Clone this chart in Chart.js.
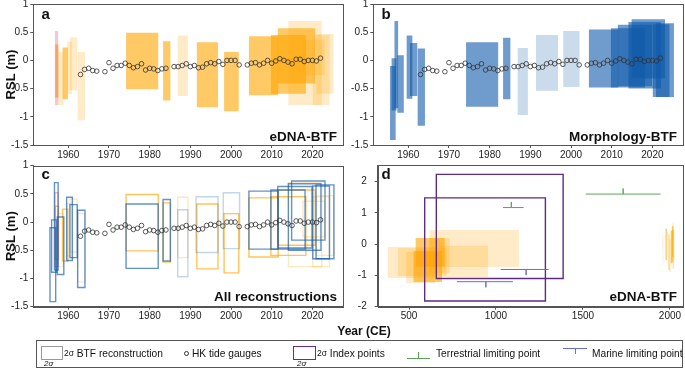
<!DOCTYPE html>
<html>
<head>
<meta charset="utf-8">
<script src="https://cdn.jsdelivr.net/npm/chart.js@4.4.0/dist/chart.umd.min.js"></script>
<style>
  body { margin: 0; width: 685px; height: 370px; position: relative; overflow: hidden; background: #fff;
         font-family: "Liberation Sans", Arial, Helvetica, sans-serif; color: #111; }
  canvas { position: absolute; }
  .tag { position: absolute; font-weight: bold; line-height: 1; white-space: nowrap; }
  .letter { font-size: 15px; }
  .corner { font-size: 13.5px; text-align: right; }
  #legend { position: absolute; left: 36px; top: 340px; width: 647px; height: 28px; border: 1px solid #555; box-sizing: border-box; }
  .lg { position: absolute; font-size: 10.2px; line-height: 1; white-space: nowrap; top: 8px; }
  .lg .s { font-size: 8.5px; position: relative; top: -1px; }
  .sig { position: absolute; font-size: 8px; font-style: italic; line-height: 1; white-space: nowrap; }
  .sym { position: absolute; box-sizing: border-box; }
</style>
</head>
<body>
<canvas id="ca" width="345" height="163" style="left:0;top:0"></canvas>
<canvas id="cb" width="345" height="163" style="left:340px;top:0"></canvas>
<canvas id="cc" width="345" height="167" style="left:0;top:158px"></canvas>
<canvas id="cd" width="345" height="167" style="left:340px;top:158px"></canvas>

<div class="tag letter" style="left:41.5px;top:5.5px">a</div>
<div class="tag letter" style="left:381.5px;top:5.5px">b</div>
<div class="tag letter" style="left:41.5px;top:165.5px">c</div>
<div class="tag letter" style="left:381.5px;top:166px">d</div>
<div class="tag corner" style="right:348px;top:130.3px">eDNA-BTF</div>
<div class="tag corner" style="right:8px;top:130.3px">Morphology-BTF</div>
<div class="tag corner" style="right:348px;top:290.3px">All reconstructions</div>
<div class="tag corner" style="right:8px;top:290.3px">eDNA-BTF</div>
<div class="tag" style="font-size:12px;left:364px;top:324.5px;transform:translateX(-50%)">Year (CE)</div>

<div id="legend">
  <div class="sym" style="left:3.5px;top:5px;width:22px;height:14px;border:1px solid #999;"></div>
  <div class="sig" style="left:7px;top:19px">2σ</div>
  <div class="lg" style="left:27px"><span class="s">2σ</span> BTF reconstruction</div>

  <div class="sym" style="left:146.5px;top:9.5px;width:5px;height:5px;border:0.8px solid #333;border-radius:50%"></div>
  <div class="lg" style="left:155px">HK tide gauges</div>

  <div class="sym" style="left:256px;top:5px;width:23px;height:14px;border:1.3px solid #6a2c8c;"></div>
  <div class="sig" style="left:260px;top:19px">2σ</div>
  <div class="lg" style="left:280px"><span class="s">2σ</span> Index points</div>

  <div class="sym" style="left:370px;top:17px;width:23px;height:1px;background:#5aa55a"></div>
  <div class="sym" style="left:381px;top:11px;width:1px;height:6px;background:#5aa55a"></div>
  <div class="lg" style="left:399px">Terrestrial limiting point</div>

  <div class="sym" style="left:526px;top:7px;width:24px;height:1.2px;background:#6b6bd6"></div>
  <div class="sym" style="left:538px;top:7px;width:1.2px;height:6px;background:#6b6bd6"></div>
  <div class="lg" style="left:555px">Marine limiting point</div>
</div>

<script>
// HK tide gauge annual RSL (m)
const tideYears = [1963,1964,1965,1966,1967,1969,1970,1971,1972,1973,1974,1975,1976,1977,1978,1979,1980,1981,1982,1983,1984,
  1986,1987,1988,1989,1990,1991,1992,1993,1994,1995,1996,1997,1998,1999,2000,2001,2002,
  2004,2005,2006,2007,2008,2009,2010,2011,2012,2013,2014,2015,2016,2017,2018,2019,2020,2021,2022];
const tideRSL = [-0.25,-0.16,-0.14,-0.18,-0.19,-0.20,-0.04,-0.14,-0.09,-0.09,-0.05,-0.09,-0.13,-0.11,-0.06,-0.17,-0.14,-0.15,-0.18,-0.15,-0.14,
  -0.11,-0.11,-0.09,-0.06,-0.11,-0.09,-0.13,-0.12,-0.06,-0.04,-0.06,-0.02,-0.07,0.00,0.00,0.00,-0.08,
  -0.08,-0.05,-0.04,-0.08,-0.05,0.00,-0.05,-0.01,0.03,0.00,-0.03,-0.06,0.02,0.02,-0.02,0.00,0.00,-0.01,0.04];

// BTF reconstructions: [year from, year to, RSL top, RSL bottom, group]
const ednaBoxes = [
  [1956.7,1957.5,0.52,-0.79,'pink'],
  [1956.8,1957.6,0.28,-0.66,'strong'],
  [1957.5,1958.8,0.15,-0.79,'faint'],
  [1958.6,1959.9,0.23,-0.69,'strong'],
  [1959.7,1960.9,0.33,-0.60,'faint'],
  [1960.4,1962.2,0.41,-0.53,'faint'],
  [1962.3,1964.1,0.15,-1.06,'faint'],
  [1974.2,1982.1,0.49,-0.51,'strong'],
  [1983.3,1985.1,0.34,-0.71,'strong'],
  [1986.9,1989.4,0.44,-0.63,'faint'],
  [1991.6,1996.8,0.32,-0.83,'strong'],
  [1998.3,2001.9,0.15,-0.90,'strong'],
  [2004.4,2011.6,0.43,-0.62,'strong'],
  [2009.8,2018.4,0.45,-0.59,'strong'],
  [2011.5,2020.7,0.57,-0.41,'strong'],
  [2014.1,2022.3,0.70,-0.79,'faint'],
  [2017.7,2023.0,0.37,-0.26,'faint'],
  [2020.1,2024.2,0.45,-0.79,'faint'],
  [2021.0,2025.2,0.47,-0.59,'faint']
];
const morphBoxes = [
  [1955.5,1956.9,-0.10,-1.41,'strong'],
  [1955.9,1957.1,0.04,-0.89,'strong'],
  [1956.6,1957.5,0.70,-0.85,'strong'],
  [1957.3,1958.9,0.09,-0.93,'strong'],
  [1959.6,1961.0,0.44,-0.68,'strong'],
  [1960.4,1962.2,0.31,-0.63,'strong'],
  [1962.3,1964.1,0.21,-1.16,'strong'],
  [1974.2,1982.1,0.32,-0.82,'strong'],
  [1983.3,1985.1,0.40,-0.69,'strong'],
  [1986.9,1989.4,0.22,-0.97,'faint'],
  [1991.4,1996.8,0.45,-0.54,'faint'],
  [1998.1,2002.1,0.52,-0.47,'faint'],
  [2004.4,2011.6,0.55,-0.48,'strong'],
  [2009.8,2018.2,0.57,-0.48,'strong'],
  [2011.5,2019.9,0.63,-0.46,'strong'],
  [2014.1,2022.1,0.68,-0.50,'strong'],
  [2014.9,2023.1,0.73,-0.32,'strong'],
  [2020.1,2024.2,0.64,-0.65,'strong'],
  [2020.9,2025.3,0.66,-0.65,'strong']
];
// older eDNA-BTF reconstructions (panel d)
const ednaOldBoxes = [
  [378,650,-0.09,-1.08,'faint'],
  [436,716,-0.12,-1.02,'faint'],
  [484,650,-0.25,-1.24,'faint'],
  [618,1132,0.45,-0.73,'faint'],
  [615,734,0.20,-0.93,'faint'],
  [676,954,-0.05,-1.05,'faint'],
  [538,705,0.20,-0.72,'strong'],
  [526,690,-0.22,-1.21,'strong']
];
// sea-level index points: [from, to, top, bottom]
const indexBoxes = [
  [657,1386,2.23,-1.10],
  [590,1284,1.48,-1.82]
];
// limiting points: [from, to, age, RSL]
const terrestrialPts = [[1040,1159,1088,1.17],[1516,1946,1731,1.60]];
const marinePts = [[1027,1303,1173,-0.81],[775,1097,942,-1.20]];

const rslTicks = [-1.5,-1,-0.5,0,0.5,1];
const yearTicks = [1960,1970,1980,1990,2000,2010,2020];
const longRslTicks = [-2,-1,0,1,2];
const longYearTicks = [500,1000,1500,2000];

// ---- styles ----
Chart.defaults.font.family = '"Liberation Sans", Arial, Helvetica, sans-serif';
Chart.defaults.color = '#222';
const AXIS = '#555';
const ORANGE = '255,165,0', BLUE = '15,90,170', PINK = '235,90,130';
const fillAlpha = {strong: 0.6, faint: 0.22, pink: 0.35};
const lineAlpha = {strong: 0.65, faint: 0.25, pink: 0.45};
const limitTick = 0.18;

const frame = {
  id: 'frame',
  afterDatasetsDraw(chart) {
    const {ctx, chartArea: a} = chart;
    ctx.save();
    ctx.strokeStyle = AXIS;
    ctx.lineWidth = 1;
    ctx.strokeRect(Math.round(a.left) + 0.5, Math.round(a.top) + 0.5, Math.round(a.right - a.left), Math.round(a.bottom - a.top));
    ctx.restore();
  }
};

function rectPts(b) {
  return [{x: b[0], y: b[2]}, {x: b[1], y: b[2]}, {x: b[1], y: b[3]}, {x: b[0], y: b[3]}, {x: b[0], y: b[2]}];
}
function rgbFor(b, base) { return b[4] === 'pink' ? PINK : base; }
function filledBox(b, base) {
  return {data: rectPts(b), fill: 'shape', backgroundColor: `rgba(${rgbFor(b, base)},${fillAlpha[b[4]]})`,
    borderColor: 'transparent', borderWidth: 0, pointRadius: 0};
}
function outlineBox(b, base) {
  return {data: rectPts(b), fill: false, borderColor: `rgba(${rgbFor(b, base)},${lineAlpha[b[4]]})`,
    borderWidth: 1.4, borderCapStyle: 'square', pointRadius: 0};
}
function indexBox(b) {
  return {data: rectPts(b), fill: false, borderColor: '#5e2a84', borderWidth: 1.4, borderCapStyle: 'square', pointRadius: 0};
}
function limitMark(p, dir, color) {
  const [x0, x1, xc, y] = p;
  return {data: [{x: x0, y}, {x: xc, y}, {x: xc, y: y + dir * limitTick}, {x: xc, y}, {x: x1, y}],
    fill: false, borderColor: color, borderWidth: 1, pointRadius: 0};
}
function tideSet() {
  return {data: tideYears.map((x, i) => ({x, y: tideRSL[i]})), showLine: false,
    pointRadius: 2.3, pointBorderWidth: 0.8, pointBorderColor: '#333', pointBackgroundColor: 'transparent'};
}

function axes(o) {
  const tickFont = {size: 10};
  return {
    x: {
      type: 'linear', min: o.xMin, max: o.xMax,
      afterBuildTicks: s => { s.ticks = o.xTicks.map(v => ({value: v})); },
      afterFit: s => { s.height = o.xH; s.paddingLeft = 0; s.paddingRight = 0; },
      grid: {drawOnChartArea: false, drawTicks: true, tickLength: 3, color: AXIS},
      border: {color: AXIS},
      ticks: {font: tickFont, padding: 1, maxRotation: 0, autoSkip: false, callback: v => String(v)}
    },
    y: {
      type: 'linear', min: o.yMin, max: o.yMax,
      afterBuildTicks: s => { s.ticks = o.yTicks.map(v => ({value: v})); },
      // keep the plot box where the layout padding puts it
      afterFit: s => { s.width = o.yW; s.paddingTop = 0; s.paddingBottom = 0; },
      grid: {drawOnChartArea: false, drawTicks: true, tickLength: 3, color: AXIS},
      border: {color: AXIS},
      ticks: {font: tickFont, padding: o.yPad, autoSkip: false, callback: v => String(v)},
      title: {display: !!o.yTitle, text: o.yTitle || '', color: '#111', font: {size: 13, weight: 'bold'}, padding: {top: 4, bottom: 0}}
    }
  };
}

function makeChart(id, datasets, o) {
  return new Chart(document.getElementById(id), {
    type: 'line',
    data: {datasets},
    options: {
      responsive: false, animation: false, events: [],
      layout: {autoPadding: false, padding: o.pad},
      plugins: {legend: {display: false}, tooltip: {enabled: false}},
      elements: {line: {tension: 0}},
      scales: axes(o)
    },
    plugins: [frame]
  });
}

const shortAxes = {xMin: 1951.4, xMax: 2027.6, xTicks: yearTicks, yMin: -1.5, yMax: 1, yTicks: rslTicks, yW: 33.3, yPad: 2};

// a: eDNA-BTF
makeChart('ca', [tideSet(), ...ednaBoxes.map(b => filledBox(b, ORANGE))],
  {...shortAxes, xH: 18, yTitle: 'RSL (m)', pad: {top: 4, right: 1.7, left: 0, bottom: 0}});

// b: Morphology-BTF
makeChart('cb', [tideSet(), ...morphBoxes.map(b => filledBox(b, BLUE))],
  {...shortAxes, xH: 18, pad: {top: 4, right: 1.7, left: 0, bottom: 0}});

// c: all reconstructions, outlines
makeChart('cc', [tideSet(), ...morphBoxes.map(b => outlineBox(b, BLUE)), ...ednaBoxes.map(b => outlineBox(b, ORANGE))],
  {...shortAxes, xH: 18.3, yTitle: 'RSL (m)', pad: {top: 7.7, right: 1.7, left: 0, bottom: 0}});

// d: long eDNA-BTF record with index and limiting points
makeChart('cd', [
    ...terrestrialPts.map(p => limitMark(p, 1, '#5aa55a')),
    ...marinePts.map(p => limitMark(p, -1, '#6b6bd6')),
    ...indexBoxes.map(indexBox),
    ...ednaOldBoxes.map(b => filledBox(b, ORANGE)),
    ...ednaBoxes.map(b => filledBox(b, ORANGE))
  ],
  {xMin: 320, xMax: 2075, xTicks: longYearTicks, yMin: -2, yMax: 2.53, yTicks: longRslTicks, yW: 37.7, yPad: 8,
   xH: 18.3, pad: {top: 7, right: 2, left: 0, bottom: 0}});
</script>
</body>
</html>
